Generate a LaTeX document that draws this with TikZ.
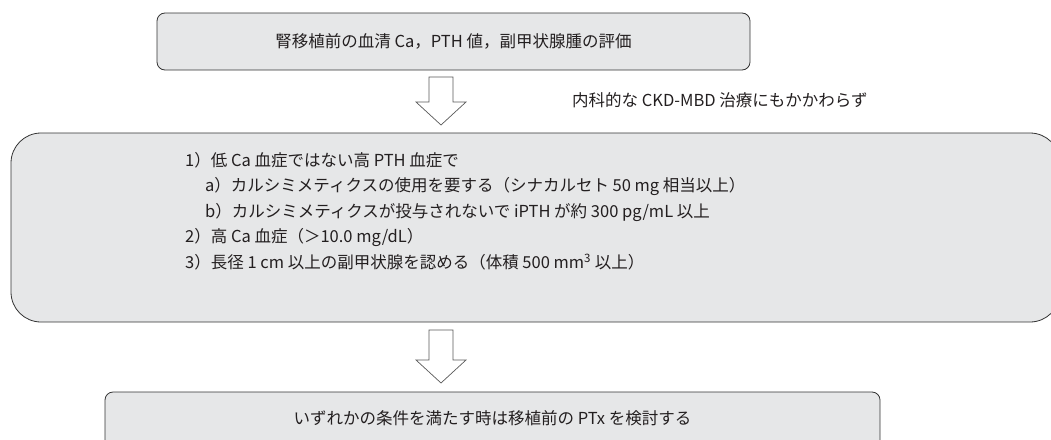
\documentclass[tikz,border=0pt]{standalone}
\usepackage{fontspec}
\setmainfont{Noto Sans CJK JP}
\definecolor{boxgray}{HTML}{E6E7E8}
\definecolor{inkgray}{HTML}{231F20}
\tikzstyle{box} = [rectangle,
rounded corners=8pt,
inner sep=0pt,
draw=black!80, line width=0.8pt,
fill=boxgray]
\tikzstyle{bigbox} = [box, rounded corners=30pt]
\tikzstyle{hollow} = [draw=black!65, line width=0.7pt, fill=white]
\tikzset{pics/downarrow/.style={code={
	\draw [hollow] (-12,0) -- (12,0) -- (12,#1) -- (25,#1) -- (0,{#1+23}) -- (-25,#1) -- (-12,#1) -- cycle;}}}

\begin{document}
\begin{tikzpicture}[x=1pt, y=-1pt, font=\fontsize{16.5}{25.5}\selectfont, text=inkgray]
	\useasboundingbox (0,0) rectangle (1051,439);
	\clip (0,0) rectangle (1051,439);
	\node (eval_box) [box, minimum width=593pt, minimum height=57pt] at (453.5,41.5) {腎移植前の血清 Ca，PTH 値，副甲状腺腫の評価};
	\node (therapy_note) [anchor=west, inner sep=0pt] at (572,100) {内科的な CKD-MBD 治療にもかかわらず};
	\node (criteria_box) [bigbox, minimum width=1049pt, minimum height=189pt] at (535.5,227.5) {};
	\node (criteria_text) [anchor=north west, align=left, inner sep=0pt] at (185,152) {%
		1）低 Ca 血症ではない高 PTH 血症で\\
		\hspace*{20pt}a）カルシミメティクスの使用を要する（シナカルセト 50 mg 相当以上）\\
		\hspace*{20pt}b）カルシミメティクスが投与されないで iPTH が約 300 pg/mL 以上\\
		2）高 Ca 血症（＞10.0 mg/dL）\\
		3）長径 1 cm 以上の副甲状腺を認める（体積 500 mm\textsuperscript{3} 以上）};
	\node (ptx_box) [box, minimum width=775pt, minimum height=60pt] at (492.5,422) {};
	\node (ptx_text) [inner sep=0pt] at (492.5,418) {いずれかの条件を満たす時は移植前の PTx を検討する};

	\pic at (441,77) {downarrow=25};
	\pic at (441,330) {downarrow=30};
\end{tikzpicture}
\end{document}
